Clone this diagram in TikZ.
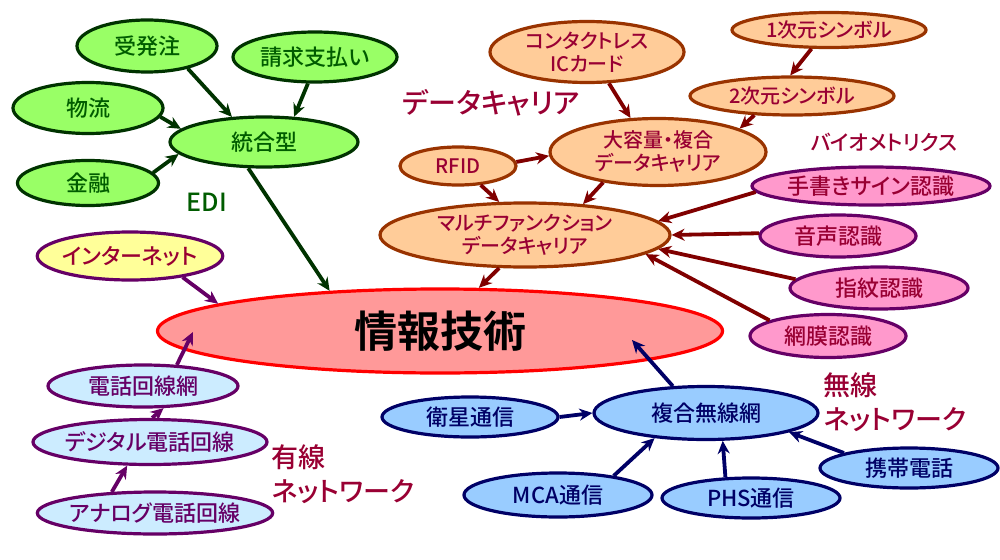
\documentclass[tikz,border=0pt]{standalone}
\usepackage{fontspec}
\setmainfont{Noto Sans CJK JP}[RawFeature=+palt, BoldFont={Noto Sans CJK JP Bold}]
\newfontfamily\medfont{Noto Sans CJK JP Medium}[RawFeature=+palt]
\usetikzlibrary{arrows.meta, shapes.geometric}
\definecolor{edifill}{HTML}{99FF66}
\definecolor{ediline}{HTML}{003300}
\definecolor{editext}{HTML}{005C00}
\definecolor{carfill}{HTML}{FFCC99}
\definecolor{carline}{HTML}{993300}
\definecolor{wine}{HTML}{990033}
\definecolor{arrowred}{HTML}{800000}
\definecolor{biofill}{HTML}{FF99CC}
\definecolor{violetline}{HTML}{660066}
\definecolor{netfill}{HTML}{FFFF99}
\definecolor{wiredfill}{HTML}{CCECFF}
\definecolor{wlessfill}{HTML}{99CCFF}
\definecolor{navyline}{HTML}{000066}
\definecolor{corefill}{HTML}{FF9999}
\tikzset{
	oval/.style={ellipse, draw, line width=3.2pt, inner sep=-2pt, align=center, font=\medfont\fontsize{22}{24}\selectfont},
	edi/.style={oval, fill=edifill, draw=ediline, text=editext},
	carrier/.style={oval, fill=carfill, draw=carline, text=wine, font=\medfont\fontsize{20}{23}\selectfont},
	bio/.style={oval, fill=biofill, draw=violetline, text=wine},
	inet/.style={oval, fill=netfill, draw=violetline, text=wine},
	wired/.style={oval, fill=wiredfill, draw=violetline, text=violetline},
	wless/.style={oval, fill=wlessfill, draw=navyline, text=navyline},
	core/.style={ellipse, draw=red, line width=3.2pt, fill=corefill, font=\fontsize{43}{46}\selectfont\bfseries},
	link/.style={-{Stealth[length=13pt, width=12pt]}, line width=3.8pt},
	edilink/.style={link, draw=ediline},
	carlink/.style={link, draw=arrowred},
	wirelink/.style={link, draw=violetline},
	wlesslink/.style={link, draw=navyline},
	tag/.style={text=wine, align=left, font=\medfont\fontsize{27}{34}\selectfont}
}
\begin{document}
\begin{tikzpicture}[x=1pt, y=-1pt]
	\useasboundingbox (0,0) rectangle (1000,559);
	
	% ==========================================
	% CENTRE
	% ==========================================
	\node[core, minimum width=565, minimum height=84] (info) at (440,331) {情報技術};
	\coordinate (info-w) at (193,332);
	\coordinate (info-s) at (632,340);
	
	% ==========================================
	% EDI
	% ==========================================
	\node[edi, minimum width=140, minimum height=52] (jutyu) at (147,46) {受発注};
	\node[edi, minimum width=164, minimum height=50] (seikyu) at (315,57) {請求支払い};
	\node[edi, minimum width=150, minimum height=51] (butsuryu) at (88,108) {物流};
	\node[edi, minimum width=141, minimum height=45] (kinyu) at (88,183) {金融};
	\node[edi, minimum width=188, minimum height=50] (togo) at (264,142) {統合型};
	\node[text=editext, font=\medfont\fontsize{25}{28}\selectfont] (edilabel) at (207,202) {EDI};
	
	\draw[edilink] (jutyu.-29) -- (togo.142);
	\draw[edilink] (seikyu.-105) -- (togo.40);
	\draw[edilink] (butsuryu.-7) -- (togo.171);
	\draw[edilink] (kinyu.9) -- (togo.-172);
	\draw[edilink] (togo.-121) -- (info.160);
	
	% ==========================================
	% DATA CARRIER
	% ==========================================
	\node[carrier, minimum width=194, minimum height=61] (ic) at (587,52) {コンタクトレス\\ICカード};
	\node[carrier, minimum width=194, minimum height=35] (sym1) at (829,30) {1次元シンボル};
	\node[carrier, minimum width=204, minimum height=38] (sym2) at (792,96) {2次元シンボル};
	\node[carrier, minimum width=216, minimum height=67] (daiyo) at (658,152) {大容量・複合\\データキャリア};
	\node[carrier, minimum width=116, minimum height=38] (rfid) at (458,166) {RFID};
	\node[carrier, minimum width=290, minimum height=64] (multi) at (525,235) {マルチファンクション\\データキャリア};
	\node[tag, font=\medfont\fontsize{28}{30}\selectfont] (carlabel) at (491,103) {データキャリア};
	
	\draw[carlink] (ic.-55) -- (daiyo.129);
	\draw[carlink] (sym1.-133) -- (sym2.95);
	\draw[carlink] (sym2.-153) -- (daiyo.16);
	\draw[carlink] (rfid.4) -- (daiyo.182);
	\draw[carlink] (rfid.-40) -- (multi.128);
	\draw[carlink] (daiyo.-151) -- (multi.28);
	\draw[carlink] (multi.-128) -- (info.48);
	
	% ==========================================
	% BIOMETRICS
	% ==========================================
	\node[tag, font=\medfont\fontsize{21}{24}\selectfont] (biolabel) at (884,142) {バイオメトリクス};
	\node[bio, minimum width=238, minimum height=38] (tegaki) at (871,186) {手書きサイン認識};
	\node[bio, minimum width=156, minimum height=42] (onsei) at (838,236) {音声認識};
	\node[bio, minimum width=178, minimum height=42] (shimon) at (879,288) {指紋認識};
	\node[bio, minimum width=156, minimum height=43] (moumaku) at (828,336) {網膜認識};
	
	\draw[carlink] (tegaki.183) -- (multi.6);
	\draw[carlink] (onsei.178) -- (multi.0);
	\draw[carlink] (shimon.174) -- (multi.-6);
	\draw[carlink] (moumaku.165) -- (multi.-9);
	
	% ==========================================
	% WIRED NETWORK
	% ==========================================
	\node[inet, minimum width=175, minimum height=48] (net) at (130,256) {インターネット};
	\node[wired, minimum width=190, minimum height=42] (denwa) at (143,386) {電話回線網};
	\node[wired, minimum width=219, minimum height=45] (digital) at (150,442) {デジタル電話回線};
	\node[wired, minimum width=220, minimum height=42] (analog) at (155,513) {アナログ電話回線};
	\node[tag, anchor=west] (wiredlabel) at (268,474) {有線\\ネットワーク};
	
	\draw[wirelink] (net.-22) -- (info.173);
	\draw[wirelink] (denwa.32) -- (info-w);
	\draw[wirelink] (digital.85) -- (denwa.-47);
	\draw[wirelink] (analog.154) -- (digital.-134);
	
	% ==========================================
	% WIRELESS NETWORK
	% ==========================================
	\node[wless, minimum width=176, minimum height=40] (eisei) at (470,417) {衛星通信};
	\node[wless, minimum width=224, minimum height=53] (fukugo) at (706,413) {複合無線網};
	\node[wless, minimum width=188, minimum height=44] (mca) at (558,495) {MCA通信};
	\node[wless, minimum width=178, minimum height=40] (phs) at (751,498) {PHS通信};
	\node[wless, minimum width=178, minimum height=40] (keitai) at (909,468) {携帯電話};
	\node[tag, anchor=west] (wlesslabel) at (820,402) {無線\\ネットワーク};
	
	\draw[wlesslink] (eisei.east) -- (fukugo.west);
	\draw[wlesslink] (mca.19) -- (fukugo.-154);
	\draw[wlesslink] (phs.141) -- (fukugo.-59);
	\draw[wlesslink] (keitai.167) -- (fukugo.-13);
	\draw[wlesslink] (fukugo.141) -- (info-s);
	
\end{tikzpicture}
\end{document}
